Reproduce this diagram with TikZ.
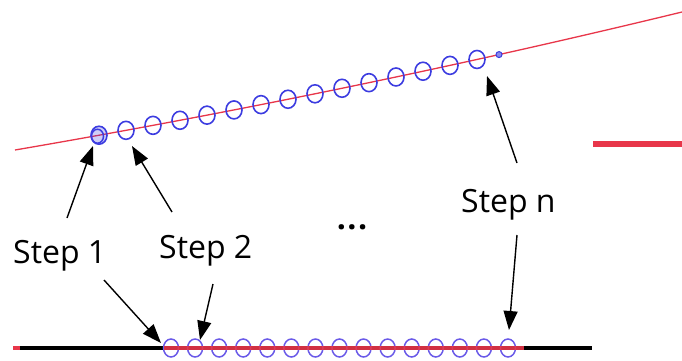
\documentclass[tikz,border=0pt]{standalone}
\usepackage{fontspec}
\setmainfont{Open Sans}
\usetikzlibrary{arrows.meta,calc}
\definecolor{curvered}{HTML}{E8364A}
\definecolor{ringblue}{HTML}{3C3CE0}
\definecolor{ringpurple}{HTML}{6A5AE8}
\tikzset{
  lbl/.style={inner sep=0pt, anchor=base west, font=\fontsize{32}{38}\selectfont},
  ptr/.style={line width=1.4pt, -{Triangle[length=19pt,width=14pt]}},
}
% height of the upper trajectory at horizontal position #1
\pgfmathdeclarefunction{traj}{1}{%
  \pgfmathparse{150 - 0.1714*(#1-15) - (0.00729*(#1-15))^2}%
}
\begin{document}
\begin{tikzpicture}[x=1pt, y=-1pt]
  \useasboundingbox (0,0) rectangle (682,360);

  % upper trajectory
  \draw[curvered, line width=1.3pt]
    plot[domain=15:682, samples=80, smooth] (\x, {traj(\x)});

  % rings placed along the upper trajectory
  \foreach \k in {0,...,14} {
    \pgfmathsetmacro{\px}{99 + 27*\k}
    \pgfmathsetmacro{\py}{traj(\px)}
    \coordinate (t\k) at (\px,\py);
    \draw[ringblue, line width=1.6pt] (t\k) ellipse [x radius=8pt, y radius=9pt];
  }
  \fill[ringblue, opacity=0.25] (t0) ellipse [x radius=8pt, y radius=9pt];
  \draw[ringblue, line width=1.5pt] ($(t0)+(-1.5,1)$) ellipse [x radius=6pt, y radius=7pt];
  \pgfmathsetmacro{\ey}{traj(499)}
  \coordinate (tend) at (499,\ey);
  \filldraw[draw=ringblue, fill=ringblue!60, line width=1pt] (tend) circle (3pt);

  % lower straight line
  \draw[curvered, line width=4.5pt] (13,348) -- (23,348);
  \draw[black, line width=4.5pt] (20,348) -- (592,348);
  \foreach \k in {0,...,14} {
    \coordinate (b\k) at ({171 + 24.07*\k}, 348);
    \draw[ringpurple, line width=1.5pt] (b\k) ellipse [x radius=7.5pt, y radius=9pt];
  }
  \draw[curvered, line width=4.5pt, opacity=0.9] (164,348) -- (524,348);

  % short red bar on the right
  \draw[curvered, line width=6pt] (593,143.5) -- (682,143.5);

  % labels
  \node[lbl] (s1) at (13,263) {Step 1};
  \node[lbl] (s2) at (159,258) {Step 2};
  \node[lbl] (sn) at (461,212) {Step n};
  \node[inner sep=0pt, font=\fontsize{32}{38}\selectfont\bfseries] (dots) at (352,227) {.\kern1.5pt.\kern1.5pt.};

  % arrow ends
  \coordinate (a1s) at (67,218);   \coordinate (a1e) at (93,146);
  \coordinate (a2s) at (172,212);  \coordinate (a2e) at (132,146);
  \coordinate (a3s) at (517,163);  \coordinate (a3e) at (487,76);
  \coordinate (a4s) at (104,280);  \coordinate (a4e) at (161,343);
  \coordinate (a5s) at (213,284);  \coordinate (a5e) at (200,340);
  \coordinate (a6s) at (517,235);  \coordinate (a6e) at (509,330);

  \draw[ptr] (a1s) -- (a1e);
  \draw[ptr] (a2s) -- (a2e);
  \draw[ptr] (a3s) -- (a3e);
  \draw[ptr] (a4s) -- (a4e);
  \draw[ptr] (a5s) -- (a5e);
  \draw[ptr] (a6s) -- (a6e);
\end{tikzpicture}
\end{document}
